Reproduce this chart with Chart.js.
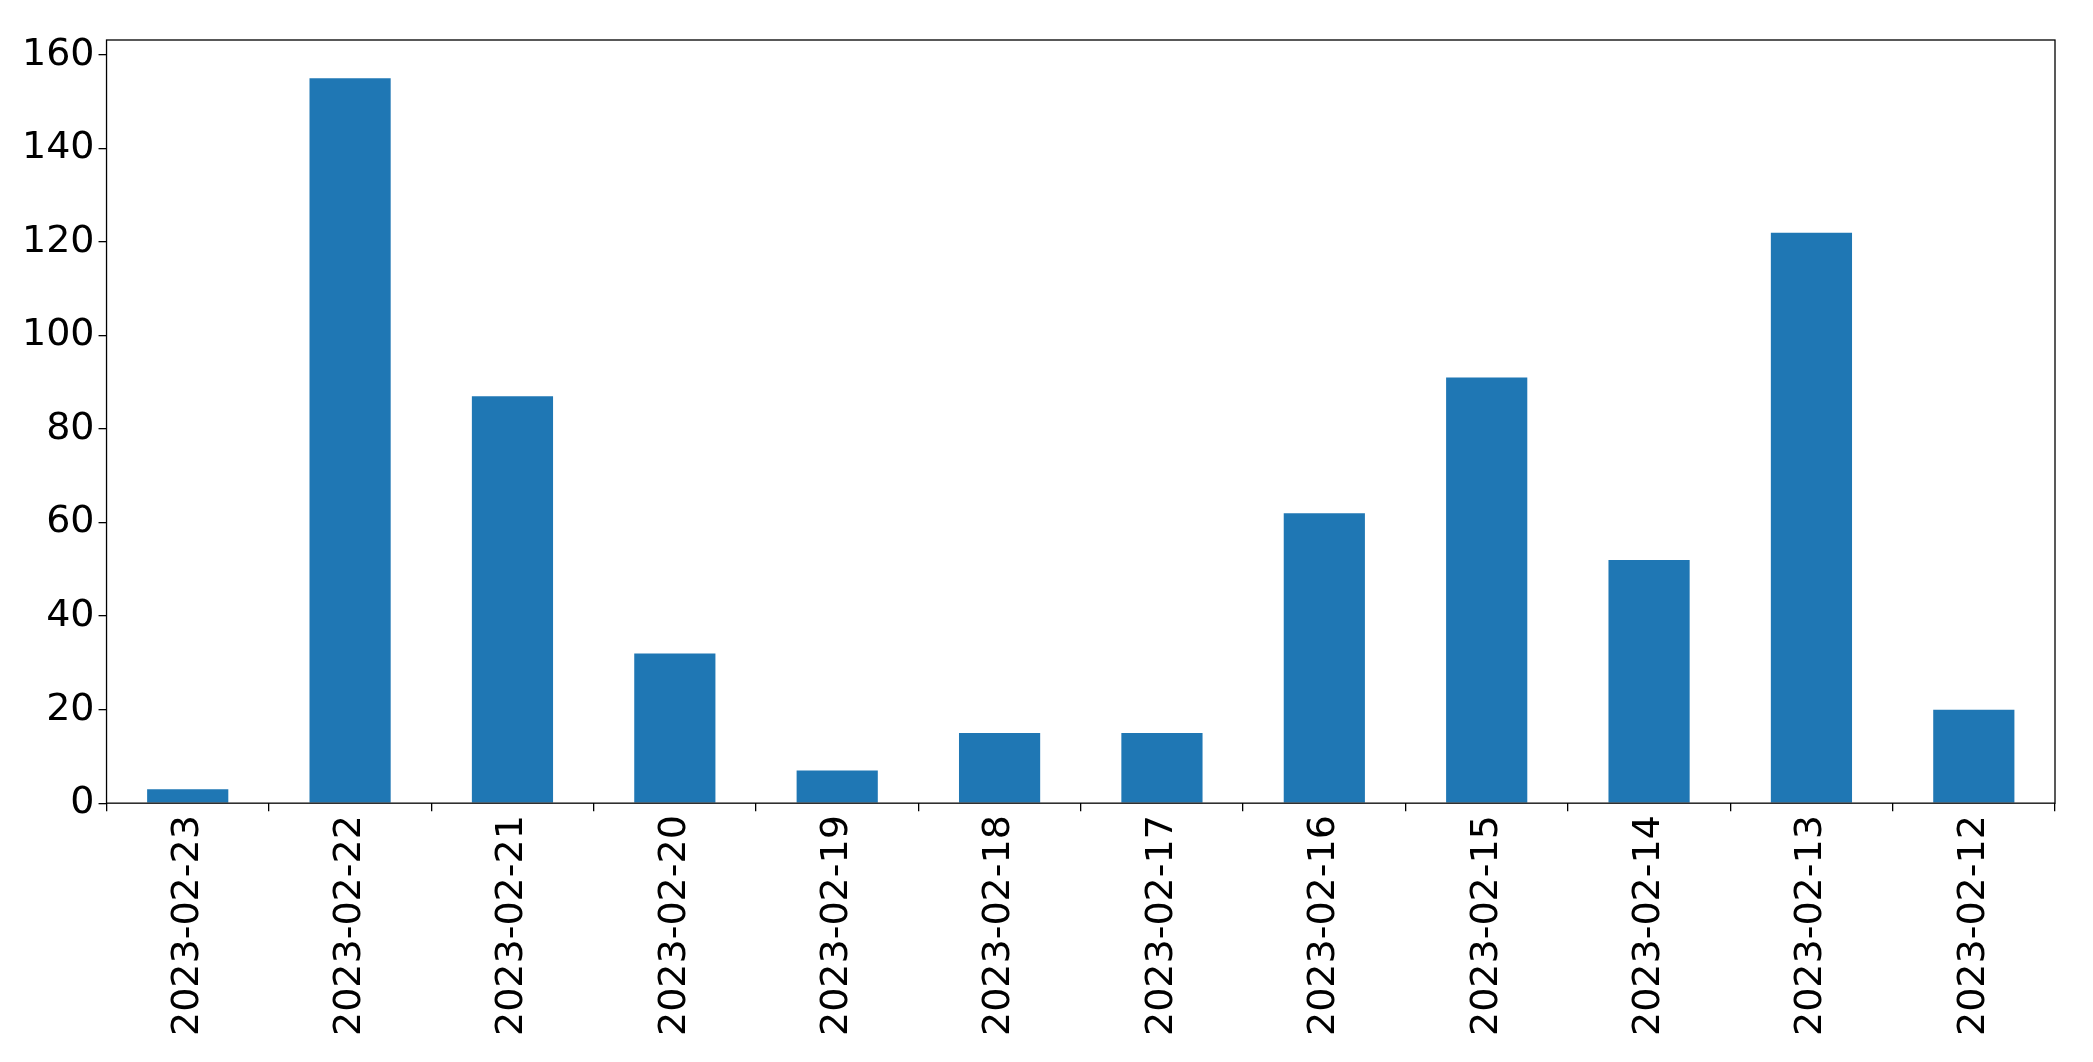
<!DOCTYPE html>
<html>
<head>
<meta charset="utf-8">
<script src="https://cdn.jsdelivr.net/npm/chart.js@4/dist/chart.umd.min.js"></script>
<style>
  html, body { margin: 0; padding: 0; background: #fff; }
  #wrap { width: 2093px; height: 1062px; }
</style>
</head>
<body>
<div id="wrap"><canvas id="dailyCounts"></canvas></div>
<script>
// Data
const dates = ['2023-02-23', '2023-02-22', '2023-02-21', '2023-02-20', '2023-02-19', '2023-02-18',
               '2023-02-17', '2023-02-16', '2023-02-15', '2023-02-14', '2023-02-13', '2023-02-12'];
const counts = [3, 155, 87, 32, 7, 15, 15, 62, 91, 52, 122, 20];
const yTicks = [0, 20, 40, 60, 80, 100, 120, 140, 160];

// frame around the plot area, like matplotlib spines
const frameBox = {
    id: 'frameBox',
    afterDraw(chart) {
        const a = chart.chartArea;
        const c = chart.ctx;
        c.save();
        c.strokeStyle = '#000';
        c.lineWidth = 1.3;
        c.strokeRect(a.left, a.top, a.right - a.left, a.bottom - a.top);
        c.restore();
    }
};

new Chart(document.getElementById('dailyCounts'), {
    type: 'bar',
    data: {
        labels: dates,
        datasets: [{
            data: counts,
            backgroundColor: '#1f77b4',
            categoryPercentage: 1.0,
            barPercentage: 0.5
        }]
    },
    options: {
        responsive: true,
        maintainAspectRatio: false,
        animation: false,
        layout: { padding: { top: 40, right: 38, left: 18, bottom: 22 } },
        plugins: { legend: { display: false }, tooltip: { enabled: false } },
        scales: {
            x: {
                grid: { display: true, drawOnChartArea: false, drawTicks: true, tickLength: 8, color: '#000', lineWidth: 1.3 },
                border: { display: false },
                ticks: { color: '#000', font: { family: 'DejaVu Sans', size: 38 }, maxRotation: 90, minRotation: 90, padding: 4 }
            },
            y: {
                min: 0,
                max: 163.2,
                afterBuildTicks(axis) { axis.ticks = yTicks.map(v => ({ value: v })); },
                grid: { display: true, drawOnChartArea: false, drawTicks: true, tickLength: 8, color: '#000', lineWidth: 1.3 },
                border: { display: false },
                ticks: { color: '#000', font: { family: 'DejaVu Sans', size: 38 }, padding: 4 }
            }
        }
    },
    plugins: [frameBox]
});
</script>
</body>
</html>
